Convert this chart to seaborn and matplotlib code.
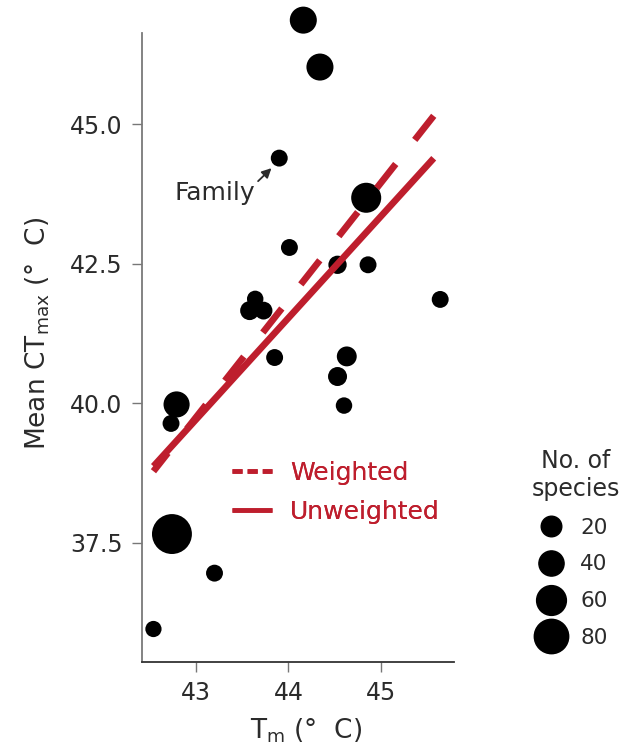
import numpy as np
import pandas as pd
import matplotlib
matplotlib.use("Agg")
import matplotlib.pyplot as plt
from matplotlib.lines import Line2D
import seaborn as sns

# ---- data ----
tm = [44.16, 44.34, 43.90, 44.84, 44.01, 44.53, 44.86, 45.64, 43.58, 43.64,
      43.73, 43.85, 44.63, 44.53, 44.60, 42.79, 42.73, 42.74, 43.20, 42.54]
ctmax = [46.86, 46.02, 44.39, 43.68, 42.79, 42.48, 42.48, 41.86, 41.66, 41.87,
         41.66, 40.82, 40.84, 40.48, 39.96, 39.98, 39.64, 37.66, 36.96, 35.96]
n_species = [48, 48, 4, 61, 4, 10, 4, 4, 13, 2,
             8, 4, 17, 13, 2, 44, 4, 104, 4, 1]
fit_names = ["Weighted", "Unweighted"]
fit_slope = [2.10, 1.82]
fit_intercept = [-50.55, -38.55]
fit_x = [45.57, 42.54]
legend_sizes = [20, 40, 60, 80]
x_ticks = [43, 44, 45]
y_ticks = [37.5, 40.0, 42.5, 45.0]

RED = "#BE1E2D"
TXT = "#2b2b2b"

sns.set_theme(style="white")
plt.rcParams["font.family"] = ["DejaVu Sans"]
plt.rcParams["mathtext.fontset"] = "dejavusans"


def diam_pt(n):
    # marker diameter in points for a species count
    return (16 + 0.23 * n) * 0.72


df = pd.DataFrame({"tm": tm, "ctmax": ctmax, "n": n_species})

fig = plt.figure(figsize=(6.23, 7.53), dpi=100)
ax = fig.add_axes([0.2279, 0.1209, 0.5008, 0.8353])

size_map = {n: diam_pt(n) ** 2 for n in sorted(set(n_species))}
sns.scatterplot(data=df, x="tm", y="ctmax", size="n", sizes=size_map,
                color="black", edgecolor="none", legend=False, ax=ax,
                clip_on=False, zorder=2)

xs = np.array(fit_x)
styles = {"Weighted": (0, (4.6, 4.6)), "Unweighted": "-"}
for name, b, a in zip(fit_names, fit_slope, fit_intercept):
    ax.plot(xs, a + b * xs, color=RED, lw=4.8, ls=styles[name],
            solid_capstyle="butt", dash_capstyle="butt", zorder=3)

ax.set_xlim(42.416, 45.789)
ax.set_ylim(35.37, 46.63)
ax.set_xticks(x_ticks)
ax.set_xticklabels([str(t) for t in x_ticks])
ax.set_yticks(y_ticks)
ax.set_yticklabels([f"{t:.1f}" for t in y_ticks])
ax.tick_params(axis="both", direction="out", length=7, width=1,
               color="#777777", labelsize=17, labelcolor=TXT, pad=7,
               bottom=True, left=True)

sns.despine(ax=ax)
ax.spines["left"].set_color("#7a7a7a")
ax.spines["left"].set_linewidth(1.3)
ax.spines["bottom"].set_color("#333333")
ax.spines["bottom"].set_linewidth(1.3)

ax.set_xlabel(r"T$_{\mathrm{m}}$ (°  C)", fontsize=19, color=TXT, labelpad=9)
ax.xaxis.set_label_coords(0.527, -0.087)
ax.set_ylabel(r"Mean CT$_{\mathrm{max}}$ (°  C)", fontsize=19, color=TXT,
              labelpad=8)
ax.yaxis.set_label_coords(-0.29, 0.523)

ax.annotate("Family", xy=(43.816, 44.21), xytext=(43.2, 43.77),
            fontsize=18, color=TXT, ha="center", va="center",
            arrowprops=dict(arrowstyle="-|>", color=TXT, lw=1.3,
                            mutation_scale=14, shrinkA=0, shrinkB=0,
                            relpos=(1.0, 0.85)))

line_handles = [
    Line2D([], [], color=RED, lw=3.3, ls=(0, (2.2, 1.1)), dash_capstyle="butt"),
    Line2D([], [], color=RED, lw=3.3, ls="-", solid_capstyle="butt"),
]
leg1 = ax.legend(line_handles, fit_names, loc="upper left",
                 bbox_to_anchor=(0.288, 0.3196), frameon=False, fontsize=18,
                 handlelength=1.6, handletextpad=0.72, labelspacing=0.59,
                 borderpad=0, borderaxespad=0)
for t in leg1.get_texts():
    t.set_color(RED)
ax.add_artist(leg1)

handles = [Line2D([], [], marker="o", ls="", color="black",
                  markersize=diam_pt(n)) for n in legend_sizes]
leg2 = fig.legend(handles, [str(n) for n in legend_sizes],
                  title="No. of\nspecies", loc="upper center",
                  bbox_to_anchor=(0.9246, 0.418), frameon=False,
                  fontsize=15.5, title_fontsize=17, handlelength=1.77,
                  handletextpad=0.47, labelspacing=0.78, borderpad=0,
                  alignment="left")
leg2.get_title().set_multialignment("center")
leg2.get_title().set_color(TXT)
for t in leg2.get_texts():
    t.set_color(TXT)

fig.savefig("out.png", dpi=100, facecolor="white")
